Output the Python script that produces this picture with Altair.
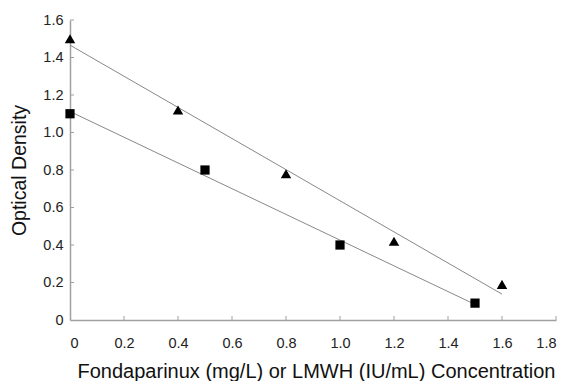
import altair as alt
import pandas as pd

# Data
tri_x = [0.0, 0.4, 0.8, 1.2, 1.6]
tri_y = [1.50, 1.12, 0.78, 0.42, 0.19]
sq_x = [0.0, 0.5, 1.0, 1.5]
sq_y = [1.10, 0.80, 0.40, 0.09]
x_ticks = [0, 0.2, 0.4, 0.6, 0.8, 1.0, 1.2, 1.4, 1.6, 1.8]
y_ticks = [0, 0.2, 0.4, 0.6, 0.8, 1.0, 1.2, 1.4, 1.6]

df = pd.DataFrame(
    {
        "x": tri_x + sq_x,
        "y": tri_y + sq_y,
        "series": ["Fondaparinux"] * len(tri_x) + ["LMWH"] * len(sq_x),
    }
)

FONT = "Liberation Sans"
W, H = 486, 300

xscale = alt.Scale(domain=[0, 1.8], nice=False, zero=False)
yscale = alt.Scale(domain=[0, 1.6], nice=False, zero=False)

x_axis = alt.Axis(
    values=x_ticks,
    labelExpr="datum.value == 0 ? '0' : format(datum.value, '.1f')",
    labelPadding=16,
    labelFontSize=14.5,
    labelFont=FONT,
    title="Fondaparinux (mg/L) or LMWH (IU/mL) Concentration",
    titleFontSize=20,
    titleX=246,
    titleY=57,
    titleBaseline="alphabetic",
    titleAlign="center",
)
y_axis = alt.Axis(
    values=y_ticks,
    labelExpr="datum.value == 0 ? '0' : format(datum.value, '.1f')",
    labelPadding=7,
    labelFontSize=14.5,
    labelFont=FONT,
    title="Optical Density",
    titleFontSize=19.5,
    titleAngle=270,
    titleX=-45,
    titleY=150,
    titleBaseline="alphabetic",
    titleAlign="center",
)

base = alt.Chart(df)

lines = base.transform_regression("x", "y", groupby=["series"]).mark_line(
    color="#888888", strokeWidth=1
).encode(
    x=alt.X("x:Q", scale=xscale, axis=x_axis),
    y=alt.Y("y:Q", scale=yscale, axis=y_axis),
    detail="series:N",
)

points = base.mark_point(filled=True, opacity=1, color="black").encode(
    x=alt.X("x:Q", scale=xscale, axis=x_axis),
    y=alt.Y("y:Q", scale=yscale, axis=y_axis),
    shape=alt.Shape(
        "series:N",
        scale=alt.Scale(domain=["Fondaparinux", "LMWH"], range=["triangle-up", "square"]),
        legend=None,
    ),
    size=alt.Size(
        "series:N",
        scale=alt.Scale(domain=["Fondaparinux", "LMWH"], range=[110, 85]),
        legend=None,
    ),
)

xt = alt.Chart(pd.DataFrame({"x": x_ticks[1:]})).mark_rule(color="#a0a0a0", strokeWidth=1).encode(
    x=alt.X("x:Q", scale=xscale, axis=x_axis),
    y=alt.value(H),
    y2=alt.value(H - 4),
)
yt = alt.Chart(pd.DataFrame({"y": y_ticks[1:]})).mark_rule(color="#a0a0a0", strokeWidth=1).encode(
    y=alt.Y("y:Q", scale=yscale, axis=y_axis),
    x=alt.value(0),
    x2=alt.value(4),
)

chart = (
    alt.layer(lines, xt, yt, points)
    .properties(
        width=W,
        height=H,
        autosize=alt.AutoSizeParams(type="none"),
        padding={"left": 62, "top": 12, "right": 6, "bottom": 61},
        background="white",
    )
    .configure_view(stroke=None)
    .configure_axis(
        ticks=False,
        grid=False,
        labelOverlap=False,
        labelColor="#222222",
        domainColor="#a0a0a0",
        domainWidth=1.5,
        titleFont=FONT,
        titleFontWeight="normal",
        titleColor="#111111",
    )
)

chart.save("out.html", embed_options={"renderer": "svg", "actions": False})
